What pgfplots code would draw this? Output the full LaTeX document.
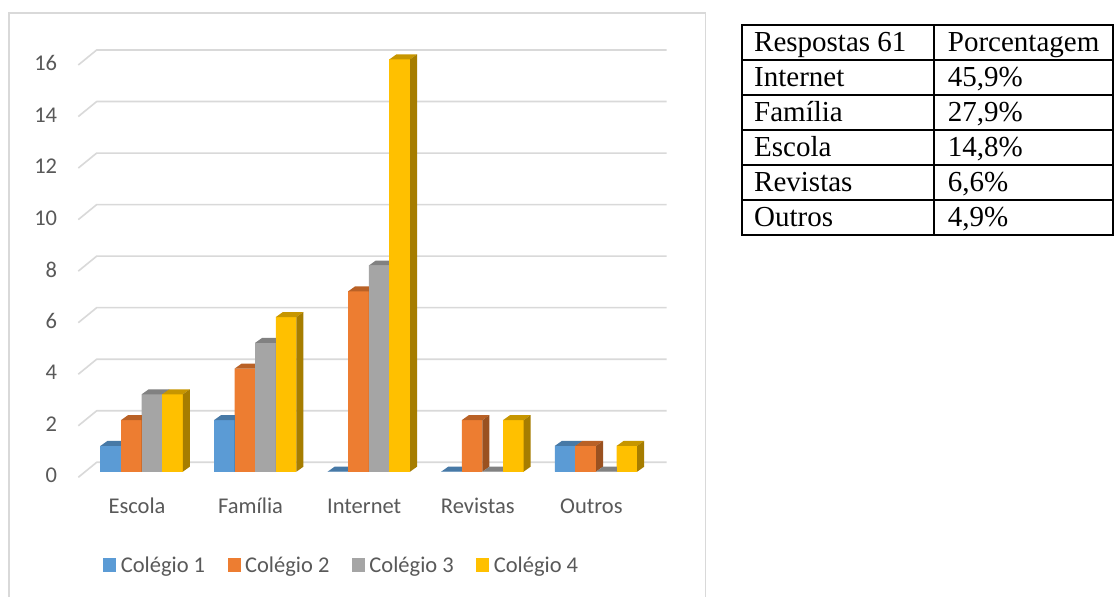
\documentclass[border=0pt]{standalone}
\usepackage{fontspec}
\usepackage{pgfplots}
\usepackage{pgfplotstable}
\pgfplotsset{compat=1.18}

\newfontfamily\calibri{Carlito}
\newfontfamily\tnr{Liberation Serif}

\definecolor{cA}{HTML}{5B9BD5}
\definecolor{cB}{HTML}{ED7D31}
\definecolor{cC}{HTML}{A5A5A5}
\definecolor{cD}{HTML}{FFC000}
\colorlet{cAtop}{cA!78!black}\colorlet{cAside}{cA!65!black}
\colorlet{cBtop}{cB!78!black}\colorlet{cBside}{cB!65!black}
\colorlet{cCtop}{cC!78!black}\colorlet{cCside}{cC!65!black}
\colorlet{cDtop}{cD!78!black}\colorlet{cDside}{cD!65!black}
\definecolor{gridc}{HTML}{D9D9D9}
\definecolor{labc}{HTML}{595959}

% answers per source and school
\pgfplotstableread{
x c1 c2 c3 c4
0 1 2 3 3
1 2 4 5 6
2 0 7 8 16
3 0 2 0 2
4 1 1 0 1
}\respostas

% a 3D column drawn from its top centre; \barv is the column value
\newcommand\barbox[4]{%
  \pgfdeclareplotmark{#1}{%
    \pgfpathrectanglecorners{\pgfpoint{-10.3pt}{-\barv*25.77pt}}{\pgfqpoint{10.3pt}{0pt}}%
    \pgfsetfillcolor{#2}\pgfusepath{fill}%
    \pgfpathmoveto{\pgfqpoint{-10.3pt}{0pt}}%
    \pgfpathlineto{\pgfqpoint{-3.3pt}{5pt}}%
    \pgfpathlineto{\pgfqpoint{17.3pt}{5pt}}%
    \pgfpathlineto{\pgfqpoint{10.3pt}{0pt}}%
    \pgfpathclose
    \pgfsetfillcolor{#3}\pgfusepath{fill}%
    \pgfpathmoveto{\pgfqpoint{10.3pt}{0pt}}%
    \pgfpathlineto{\pgfqpoint{17.3pt}{5pt}}%
    \pgfpathlineto{\pgfpoint{17.3pt}{5pt-\barv*25.77pt}}%
    \pgfpathlineto{\pgfpoint{10.3pt}{-\barv*25.77pt}}%
    \pgfpathclose
    \pgfsetfillcolor{#4}\pgfusepath{fill}%
  }}
\barbox{boxA}{cA}{cAtop}{cAside}
\barbox{boxB}{cB}{cBtop}{cBside}
\barbox{boxC}{cC}{cCtop}{cCside}
\barbox{boxD}{cD}{cDtop}{cDside}

\pgfplotsset{
  sqleg/.style={legend image code/.code={\fill[#1] (0pt,-6.85pt) rectangle (13pt,6.85pt);}},
  front/.style 2 args={ybar, bar width=20.6pt, bar shift=#2, fill=#1, draw=none, sqleg=#1},
  box/.style 2 args={forget plot, only marks, mark=#1, xshift=#2,
    visualization depends on={y \as \barv}},
}

\begin{document}
\begin{tikzpicture}
\useasboundingbox (0pt,0pt) rectangle (1114pt,597pt);
\fill[white] (0pt,0pt) rectangle (1114pt,597pt);

% chart area frame
\draw[gridc, line width=1.6pt] (8.7pt,-10pt) -- (8.7pt,583.7pt) -- (705.3pt,583.7pt) -- (705.3pt,-10pt);

\begin{axis}[
  at={(84.8pt,125.3pt)}, anchor=south west,
  x=113.6pt, y=25.77pt,
  xmin=-0.5, xmax=4.5, ymin=0, ymax=16,
  clip=false,
  axis line style={draw=none},
  major tick length=0pt,
  tick style={draw=none},
  xtick={0,1,2,3,4},
  xticklabels={Escola,Família,Internet,Revistas,Outros},
  ytick={0,2,4,6,8,10,12,14,16},
  /pgf/number format/assume math mode=true,
  ticklabel style={font=\calibri\fontsize{22.5}{27}\selectfont, text=labc},
  xticklabel style={anchor=base, inner sep=0pt, xshift=-4.6pt, yshift=-42.3pt},
  yticklabel style={anchor=east, inner sep=0pt, xshift=-27.5pt, yshift=-4pt},
  legend columns=4,
  legend style={at={(0.0326,-0.2263)}, anchor=west, draw=none, fill=none,
    inner sep=0pt, outer sep=0pt, text=labc,
    font=\calibri\fontsize{22.5}{27}\selectfont,
    nodes={inner sep=0pt},
    /tikz/every odd column/.append style={column sep=4.5pt},
    /tikz/every even column/.append style={column sep=22.5pt}},
]
% floor edges and back-wall gridlines
\pgfplotsinvokeforeach{0,2,4,6,8,10,12,14,16}{
  \draw[gridc, line width=1.6pt, line join=round]
    ([xshift=-6.5pt,yshift=-5.6pt]axis cs:-0.5,#1)
    -- ([xshift=11.9pt,yshift=9.4pt]axis cs:-0.5,#1)
    -- ([xshift=13.9pt,yshift=9.4pt]axis cs:4.5,#1);
}

% front faces (also give the legend entries)
\addplot[front={cA}{-30.9pt}] table[x=x,y=c1]{\respostas};
\addplot[front={cB}{-10.3pt}] table[x=x,y=c2]{\respostas};
\addplot[front={cC}{10.3pt}] table[x=x,y=c3]{\respostas};
\addplot[front={cD}{30.9pt}] table[x=x,y=c4]{\respostas};
% full 3D columns, left to right so each hides its neighbour's side
\addplot[box={boxA}{-30.9pt}] table[x=x,y=c1]{\respostas};
\addplot[box={boxB}{-10.3pt}] table[x=x,y=c2]{\respostas};
\addplot[box={boxC}{10.3pt}] table[x=x,y=c3]{\respostas};
\addplot[box={boxD}{30.9pt}] table[x=x,y=c4]{\respostas};

\legend{Colégio 1,Colégio 2,Colégio 3,Colégio 4}
\end{axis}

% percentage table
\begin{scope}[line width=1.6pt]
  \draw (741.7pt,572pt) rectangle (1113pt,362pt);
  \draw (934pt,572pt) -- (934pt,362pt);
  \foreach \yy in {537,502,467,432,397}
    \draw (741.7pt,\yy pt) -- (1113pt,\yy pt);
\end{scope}
\begin{scope}[every node/.style={anchor=base west, inner sep=0pt, font=\tnr\fontsize{29}{34}\selectfont}]
  \node at (754pt,545.3pt) {Respostas 61};
  \node at (947.7pt,545.3pt) {Porcentagem};
  \node at (754pt,510.3pt) {Internet};
  \node at (947.7pt,510.3pt) {45,9\%};
  \node at (754pt,475.3pt) {Família};
  \node at (947.7pt,475.3pt) {27,9\%};
  \node at (754pt,440.3pt) {Escola};
  \node at (947.7pt,440.3pt) {14,8\%};
  \node at (754pt,405.3pt) {Revistas};
  \node at (947.7pt,405.3pt) {6,6\%};
  \node at (754pt,370.3pt) {Outros};
  \node at (947.7pt,370.3pt) {4,9\%};
\end{scope}
\end{tikzpicture}
\end{document}
